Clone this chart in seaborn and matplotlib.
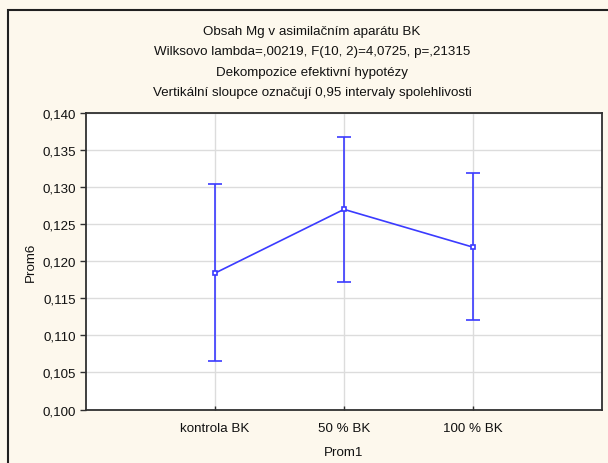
import matplotlib
matplotlib.use("Agg")
import matplotlib.pyplot as plt
import seaborn as sns
import pandas as pd
from matplotlib.patches import Rectangle
from matplotlib.ticker import FuncFormatter, MultipleLocator

categories = ["kontrola BK", "50 % BK", "100 % BK"]
means = [0.1184, 0.1270, 0.1219]
ci_low = [0.1065, 0.1172, 0.1121]
ci_high = [0.1304, 0.1368, 0.1319]

title_lines = [
    "Obsah Mg v asimilačním aparátu BK",
    "Wilksovo lambda=,00219, F(10, 2)=4,0725, p=,21315",
    "Dekompozice efektivní hypotézy",
    "Vertikální sloupce označují 0,95 intervaly spolehlivosti",
]

sns.set_theme(style="white")
plt.rcParams["font.family"] = ["Liberation Sans", "DejaVu Sans"]
plt.rcParams["text.color"] = "#111111"
plt.rcParams["axes.labelcolor"] = "#111111"
plt.rcParams["xtick.color"] = "#111111"
plt.rcParams["ytick.color"] = "#111111"

BLUE = "#3b3bff"
BG = "#fdf8ed"
FS = 9.6

fig = plt.figure(figsize=(6.08, 4.64), dpi=100, facecolor=BG)
ax = fig.add_axes([86 / 608, 1 - 410.5 / 464, (602 - 86) / 608, (410.5 - 114) / 464])
ax.set_facecolor("white")

df = pd.DataFrame({"Prom1": categories, "Prom6": means})
sns.pointplot(data=df, x="Prom1", y="Prom6", ax=ax, color=BLUE, markers="s",
              errorbar=None, linewidth=1.2, markersize=3.5, zorder=4)
for l in ax.lines:
    l.set_markerfacecolor("white")
    l.set_markeredgecolor(BLUE)
    l.set_markeredgewidth(1.2)

xs = list(range(len(categories)))
yerr = [[m - lo for m, lo in zip(means, ci_low)], [hi - m for m, hi in zip(means, ci_high)]]
ax.errorbar(xs, means, yerr=yerr, fmt="none", ecolor=BLUE, elinewidth=1.2,
            capsize=5, capthick=1.2, zorder=3)

ax.set_xlim(-1, 3)
ax.set_ylim(0.100, 0.140)
ax.yaxis.set_major_locator(MultipleLocator(0.005))
ax.yaxis.set_major_formatter(FuncFormatter(lambda v, p: f"{v:.3f}".replace(".", ",")))
ax.set_xticks(xs)
ax.set_xticklabels(categories)
ax.grid(True, color="#dcdcdc", linewidth=1.0)
ax.set_axisbelow(True)
for s in ax.spines.values():
    s.set_color("#303030")
    s.set_linewidth(1.3)
    s.set_visible(True)

ax.tick_params(axis="y", direction="out", length=4, width=1, color="#303030",
               labelsize=FS, pad=3, left=True)
ax.tick_params(axis="x", direction="in", length=3, width=1, color="#303030",
               labelsize=FS, pad=9, bottom=True)
ax.set_xlabel("Prom1", fontsize=FS, labelpad=9)
ax.set_ylabel("Prom6", fontsize=FS, labelpad=4)

for i, t in enumerate(title_lines):
    fig.text(312 / 608, 1 - (32 + i * 20.3) / 464, t, ha="center", va="center", fontsize=FS)

fig.patches.append(Rectangle((8 / 608, -0.1), 1.2, (464 - 11) / 464 + 0.1,
                             transform=fig.transFigure, fill=False,
                             edgecolor="#202020", linewidth=1.5))

fig.savefig("out.png", dpi=100, facecolor=BG)
